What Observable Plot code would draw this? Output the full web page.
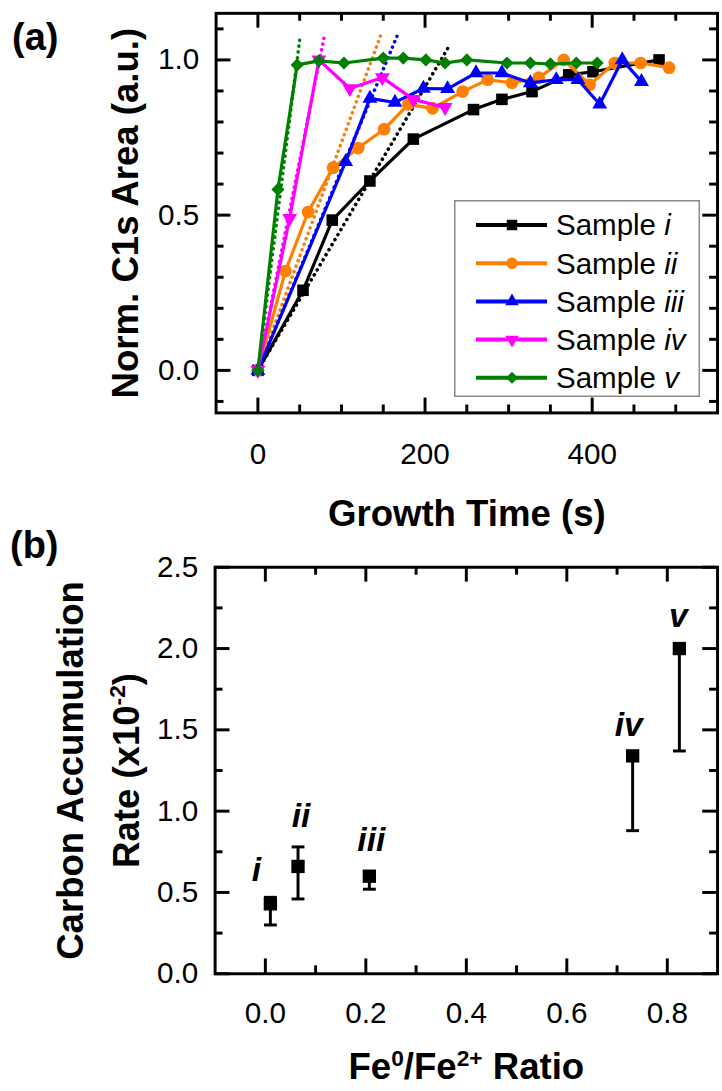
<!DOCTYPE html>
<html>
<head>
<meta charset="utf-8">
<script src="https://cdn.jsdelivr.net/npm/d3@7"></script>
<script src="https://cdn.jsdelivr.net/npm/@observablehq/plot@0.6"></script>
<style>
  html, body { margin: 0; padding: 0; background: #fff; overflow: hidden; width: 722px; height: 1091px; }
  body { position: relative; font-family: "Liberation Sans", Arial, Helvetica, sans-serif; }
  .panel { position: absolute; left: 0; }
  .tag { position: absolute; font-weight: bold; font-size: 38px; line-height: 38px; color: #000; }
  #legend { position: absolute; left: 454px; top: 200px; }
</style>
</head>
<body>
<div id="pa" class="panel" style="top:0px"></div>
<div id="pb" class="panel" style="top:545px"></div>
<div id="legend"></div>
<div class="tag" style="left:12px; top:18px">(a)</div>
<div class="tag" style="left:10px; top:526px">(b)</div>
<script>
// ---------------- Panel (a) data ----------------
const sampleNames = ["i", "ii", "iii", "iv", "v"];
const sampleColors = ["#000000", "#ff7f00", "#0000ff", "#ff00ff", "#008000"];

const timeI = [0, 54, 89, 134, 186, 258, 292, 328, 372, 401, 480];
const areaI = [0, 0.258, 0.484, 0.61, 0.745, 0.84, 0.873, 0.898, 0.952, 0.962, 1.0];

const timeII = [0, 33, 60, 90, 120, 151, 180, 209, 245, 275, 304, 336, 366, 397, 427, 458, 492];
const areaII = [0, 0.32, 0.51, 0.653, 0.716, 0.777, 0.857, 0.844, 0.898, 0.936, 0.926, 0.943, 1.0, 0.92, 0.99, 0.99, 0.975];

const timeIII = [0, 105, 134, 164, 198, 227, 261, 292, 326, 357, 383, 409, 436, 459];
const areaIII = [0, 0.672, 0.876, 0.863, 0.908, 0.907, 0.958, 0.958, 0.926, 0.936, 0.936, 0.857, 1.0, 0.93];

const timeIV = [0, 38, 73, 110, 149, 186, 224];
const areaIV = [0, 0.49, 1.0, 0.908, 0.943, 0.873, 0.847];

const timeV = [0, 24, 47, 73, 103, 150, 174, 201, 224, 250, 298, 326, 350, 381, 406];
const areaV = [0, 0.583, 0.984, 0.997, 0.99, 1.006, 1.006, 1.0, 0.99, 1.0, 0.99, 0.99, 0.987, 0.99, 0.99];

// end points of the dotted initial-slope lines (start at the origin)
const fitEndTime = [230, 147, 167, 79, 50];
const fitEndArea = [1.05, 1.08, 1.08, 1.07, 1.065];

const timeTicks = [0, 200, 400];
const timeMinorTicks = [50, 100, 150, 250, 300, 350, 450, 500];
const areaTicks = [0, 0.5, 1.0];
const areaMinorTicks = [-0.1, 0.1, 0.2, 0.3, 0.4, 0.6, 0.7, 0.8, 0.9, 1.1];

// ---------------- Panel (b) data ----------------
const ratio = [0.01, 0.065, 0.207, 0.731, 0.824];
const rate = [0.43, 0.66, 0.60, 1.34, 2.0];
const rateLow = [0.30, 0.46, 0.52, 0.88, 1.37];
const rateHigh = [0.47, 0.78, 0.60, 1.34, 2.0];

const ratioTicks = [0, 0.2, 0.4, 0.6, 0.8];
const ratioMinorTicks = [0.1, 0.3, 0.5, 0.7];
const rateTicks = [0, 0.5, 1.0, 1.5, 2.0, 2.5];
const rateMinorTicks = [0.25, 0.75, 1.25, 1.75, 2.25];

// ---------------- helpers ----------------
const fontFamily = '"Liberation Sans", Arial, Helvetica, sans-serif';
const W = 730;

const downTriangle = {
  draw(ctx, size) {
    const s = Math.sqrt(size * 4 / Math.sqrt(3));
    const h = s * Math.sqrt(3) / 2;
    ctx.moveTo(0, 2 * h / 3);
    ctx.lineTo(s / 2, -h / 3);
    ctx.lineTo(-s / 2, -h / 3);
    ctx.closePath();
  }
};
const capSymbol = {
  draw(ctx) { ctx.moveTo(-6.5, 0); ctx.lineTo(6.5, 0); }
};
const sampleSymbols = [d3.symbolSquare, d3.symbolCircle, d3.symbolTriangle, downTriangle, d3.symbolDiamond2];
const sampleR = [6.6, 6.4, 5.6, 5.6, 6.0];

const SUP = {"⁰": "0", "¹": "1", "²": "2", "³": "3", "⁺": "+", "⁻": "-"};
function applySuperscripts(svg, size, shift) {
  svg.querySelectorAll("text").forEach(t => {
    if (t.querySelector("tspan")) return;
    const s = t.textContent;
    const chars = [...s];
    if (!chars.some(c => SUP[c])) return;
    const runs = [];
    for (const c of chars) {
      const sup = !!SUP[c];
      const ch = sup ? SUP[c] : c;
      if (runs.length && runs[runs.length - 1].sup === sup) runs[runs.length - 1].txt += ch;
      else runs.push({sup, txt: ch});
    }
    t.textContent = "";
    let up = false;
    for (const r of runs) {
      const ts = document.createElementNS("http://www.w3.org/2000/svg", "tspan");
      ts.textContent = r.txt;
      if (r.sup) { ts.setAttribute("font-size", size); ts.setAttribute("dy", -shift); up = true; }
      else if (up) { ts.setAttribute("dy", shift); up = false; }
      t.appendChild(ts);
    }
  });
}

function frameTicks(xs, ys, len, iw, ih) {
  const o = {stroke: "#000", strokeWidth: 3};
  return [
    Plot.tickX(xs, {x: d => d, insetTop: ih - len, ...o}),
    Plot.tickX(xs, {x: d => d, insetBottom: ih - len, ...o}),
    Plot.tickY(ys, {y: d => d, insetRight: iw - len, ...o}),
    Plot.tickY(ys, {y: d => d, insetLeft: iw - len, ...o})
  ];
}

const titleStyle = {fontWeight: "bold", fontSize: 37, fill: "#000", lineAnchor: "middle", textAnchor: "middle"};

// ---------------- Panel (a) ----------------
{
  const H = 545, mt = 13, mb = H - 417, ml = 218, mr = W - 725;
  const iw = W - ml - mr, ih = H - mt - mb;
  const seriesTimes = [timeI, timeII, timeIII, timeIV, timeV];
  const seriesAreas = [areaI, areaII, areaIII, areaIV, areaV];
  const series = sampleNames.map((name, k) => ({
    name, color: sampleColors[k], symbol: sampleSymbols[k], r: sampleR[k],
    rows: seriesTimes[k].map((t, j) => ({t, a: seriesAreas[k][j]}))
  }));
  const fits = sampleNames.map((name, k) => ({name, t: fitEndTime[k], a: fitEndArea[k], color: sampleColors[k]}));

  const marks = [];
  for (const f of fits) {
    marks.push(Plot.link([f], {x1: 0, y1: 0, x2: "t", y2: "a", stroke: f.color, strokeWidth: 3.6,
      strokeDasharray: "0.1 5.8", strokeLinecap: "round"}));
  }
  for (const s of series) {
    marks.push(Plot.line(s.rows, {x: "t", y: "a", stroke: s.color, strokeWidth: 3.2}));
    marks.push(Plot.dot(s.rows, {x: "t", y: "a", fill: s.color, stroke: "none", symbol: s.symbol, r: s.r}));
  }
  marks.push(Plot.frame({stroke: "#000", strokeWidth: 3}));
  marks.push(...frameTicks(timeTicks, areaTicks, 15, iw, ih));
  marks.push(...frameTicks(timeMinorTicks, areaMinorTicks, 8, iw, ih));
  marks.push(Plot.text(["Growth Time (s)"], {text: d => d, frameAnchor: "bottom", dy: 102, ...titleStyle}));
  marks.push(Plot.text(["Norm. C1s Area (a.u.)"], {text: d => d, frameAnchor: "left", dx: -91, rotate: -90, ...titleStyle}));

  const plotA = Plot.plot({
    width: W, height: H, marginTop: mt, marginBottom: mb, marginLeft: ml, marginRight: mr,
    style: {fontFamily, fontSize: "30px", color: "#000", background: "transparent", overflow: "visible"},
    x: {domain: [-50, 550], ticks: timeTicks, tickSize: 0, tickPadding: 30, label: null, tickFormat: d3.format("d")},
    y: {domain: [-0.137, 1.15], ticks: areaTicks, tickSize: 0, tickPadding: 17, label: null, tickFormat: d3.format(".1f")},
    marks
  });
  document.getElementById("pa").appendChild(plotA);

  // legend
  const lw = 246, lh = 197;
  const svg = d3.select("#legend").append("svg").attr("width", lw).attr("height", lh)
    .style("overflow", "visible").style("font-family", fontFamily);
  svg.append("rect").attr("x", 0.75).attr("y", 0.75).attr("width", lw - 1.5).attr("height", lh - 1.5)
    .attr("fill", "#fff").attr("stroke", "#8a8a8a").attr("stroke-width", 1.5);
  series.forEach((s, k) => {
    const cy = 25 + 38.2 * k;
    const g = svg.append("g");
    g.append("line").attr("x1", 22).attr("x2", 93).attr("y1", cy).attr("y2", cy)
      .attr("stroke", s.color).attr("stroke-width", 4);
    g.append("path").attr("d", d3.symbol(s.symbol, Math.PI * s.r * s.r * 0.8)())
      .attr("transform", `translate(58,${cy})`).attr("fill", s.color);
    const t = g.append("text").attr("x", 102).attr("y", cy).attr("dy", "0.35em")
      .attr("font-size", 29.5).attr("fill", "#000");
    t.append("tspan").text("Sample ");
    t.append("tspan").attr("font-style", "italic").text(s.name);
  });
}

// ---------------- Panel (b) ----------------
{
  const top = 545;
  const H = 546, mt = 567 - top, mb = H - (978 - top), ml = 217, mr = W - 725;
  const iw = W - ml - mr, ih = H - mt - mb;
  const pts = sampleNames.map((name, k) => ({name, ratio: ratio[k], rate: rate[k], low: rateLow[k], high: rateHigh[k]}));
  const upperCaps = pts.filter(d => d.high > d.rate + 0.02);
  const labelOffsets = [[-14, -34], [3, -51], [2, -36], [-4, -31], [-1, -33]];

  const marks = [
    Plot.ruleX(pts, {x: "ratio", y1: "low", y2: "high", stroke: "#000", strokeWidth: 3}),
    Plot.dot(pts, {x: "ratio", y: "low", symbol: capSymbol, fill: "none", stroke: "#000", strokeWidth: 3}),
    Plot.dot(upperCaps, {x: "ratio", y: "high", symbol: capSymbol, fill: "none", stroke: "#000", strokeWidth: 3}),
    Plot.dot(pts, {x: "ratio", y: "rate", symbol: "square", r: 7.6, fill: "#000", stroke: "none"}),
    ...pts.map((p, k) => Plot.text([p], {x: "ratio", y: "rate", text: "name", dx: labelOffsets[k][0], dy: labelOffsets[k][1],
      fontWeight: "bold", fontStyle: "italic", fontSize: 34, fill: "#000"})),
    Plot.frame({stroke: "#000", strokeWidth: 3}),
    ...frameTicks(ratioTicks, rateTicks, 15, iw, ih),
    ...frameTicks(ratioMinorTicks, rateMinorTicks, 8, iw, ih),
    Plot.text(["Fe⁰/Fe²⁺ Ratio"], {text: d => d, frameAnchor: "bottom", dy: 95, ...titleStyle}),
    Plot.text(["Carbon Accumulation"], {text: d => d, frameAnchor: "left", dx: -145, rotate: -90, ...titleStyle}),
    Plot.text(["Rate (x10⁻²)"], {text: d => d, frameAnchor: "left", dx: -89, rotate: -90, ...titleStyle})
  ];

  const plotB = Plot.plot({
    width: W, height: H, marginTop: mt, marginBottom: mb, marginLeft: ml, marginRight: mr,
    style: {fontFamily, fontSize: "30px", color: "#000", background: "transparent", overflow: "visible"},
    x: {domain: [-0.1, 0.9], ticks: ratioTicks, tickSize: 0, tickPadding: 28, label: null, tickFormat: d3.format(".1f")},
    y: {domain: [0, 2.5], ticks: rateTicks, tickSize: 0, tickPadding: 17, label: null, tickFormat: d3.format(".1f")},
    marks
  });
  applySuperscripts(plotB, 23, 14);
  document.getElementById("pb").appendChild(plotB);
}
</script>
</body>
</html>
